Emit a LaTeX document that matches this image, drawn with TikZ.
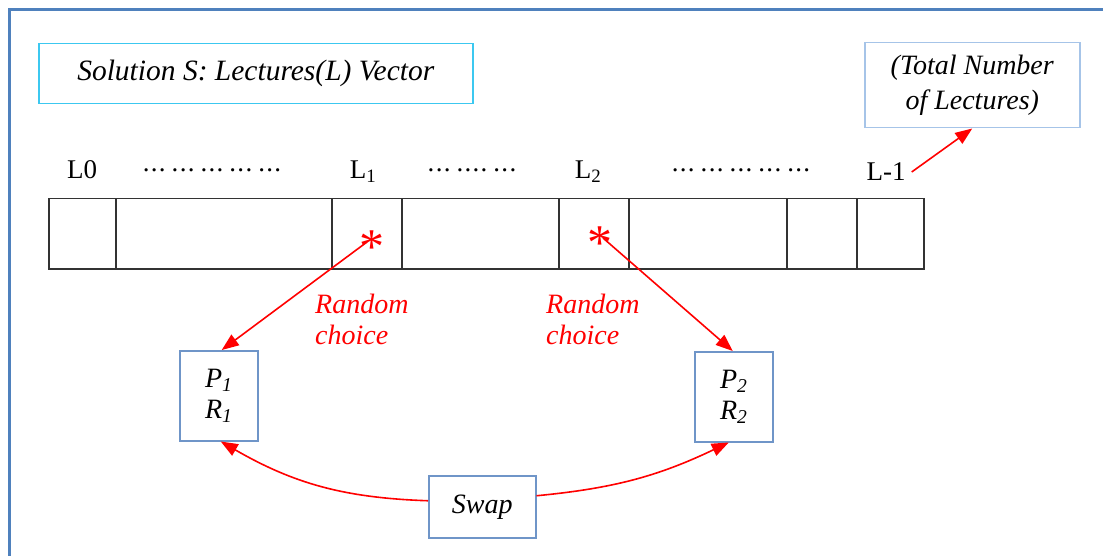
\documentclass[tikz,border=0pt]{standalone}
\usepackage{fontspec}
\setmainfont{Liberation Serif}
\usetikzlibrary{arrows.meta}
\definecolor{framecol}{HTML}{4F81BD}
\definecolor{titlecol}{HTML}{3CC8F0}
\definecolor{notecol}{HTML}{A6C4E8}
\definecolor{boxcol}{HTML}{6F95C8}
\definecolor{cellcol}{HTML}{333333}
\tikzset{
  x=1pt, y=-1pt,
  cell/.style={draw=cellcol, line width=1.5pt, inner sep=0pt, minimum height=70pt, anchor=north west},
  infobox/.style={draw=#1, line width=1.5pt, inner sep=0pt, anchor=north west, font=\fontsize{28}{34}\selectfont\itshape, align=center},
  lbl/.style={font=\fontsize{27}{32}\selectfont, inner sep=0pt},
  dotrow/.style={font=\fontsize{27}{32}\selectfont, inner sep=0pt},
  starmark/.style={text=red, font=\fontsize{50}{50}\selectfont, inner sep=0pt},
  redtxt/.style={text=red, font=\fontsize{28}{31}\selectfont\itshape, inner sep=0pt, align=left},
  redarrow/.style={draw=red, line width=1.6pt, -{Triangle[length=17pt,width=13pt]}},
}
% a group of three (or four) closely spaced dots
\newcommand{\dotsiii}{.\kern1.3pt.\kern1.3pt.}
\newcommand{\dotsiv}{.\kern1.3pt.\kern1.3pt.\kern1.3pt.}
\newcommand{\dgap}{\hspace{6pt}}
\begin{document}
\begin{tikzpicture}
\useasboundingbox (0,0) rectangle (1103,556);
% outer frame
\draw[framecol, line width=3pt] (9,556) -- (9,10) -- (1103,10);

% heading boxes
\node[infobox=titlecol, minimum width=434pt, minimum height=60pt,
      font=\fontsize{29.5}{34}\selectfont\itshape] (title) at (38,43) {Solution S: Lectures(L) Vector};
\node[infobox=notecol, minimum width=215pt, minimum height=85pt,
      font=\fontsize{28}{35}\selectfont\itshape] (total) at (864,42) {(Total Number\\of Lectures)};

% lecture vector cells
\node[cell, minimum width=67pt]  (c0) at (48,198) {};
\node[cell, minimum width=216pt] (c1) at (115,198) {};
\node[cell, minimum width=70pt]  (c2) at (331,198) {};
\node[cell, minimum width=157pt] (c3) at (401,198) {};
\node[cell, minimum width=70pt]  (c4) at (558,198) {};
\node[cell, minimum width=158pt] (c5) at (628,198) {};
\node[cell, minimum width=70pt]  (c6) at (786,198) {};
\node[cell, minimum width=67pt]  (c7) at (856,198) {};

% index labels
\node[lbl] (l0) at (82,170) {L0};
\node[dotrow] (d1) at (212,170) {\dotsiii\dgap\dotsiii\dgap\dotsiii\dgap\dotsiii\dgap\dotsiii};
\node[lbl] (l1) at (363,172) {L\textsubscript{1}};
\node[dotrow] (d2) at (472,170) {\dotsiii\dgap\dotsiv\dgap\dotsiii};
\node[lbl] (l2) at (588,172) {L\textsubscript{2}};
\node[dotrow] (d3) at (741,170) {\dotsiii\dgap\dotsiii\dgap\dotsiii\dgap\dotsiii\dgap\dotsiii};
\node[lbl] (ln) at (886,172) {L-1};

% chosen positions
\node[starmark] (s1) at (372,247) {*};
\node[starmark] (s2) at (600,243) {*};
\coordinate (s1a) at (367,242);
\coordinate (s2a) at (603,238);

\node[redtxt, anchor=north west] (rc1) at (315,294) {Random\\choice};
\node[redtxt, anchor=north west] (rc2) at (546,294) {Random\\choice};

% selected lectures
\node[infobox=boxcol, minimum width=78pt, minimum height=90pt] (p1) at (179,350) {P\textsubscript{1}\\[-3pt]R\textsubscript{1}};
\node[infobox=boxcol, minimum width=78pt, minimum height=90pt] (p2) at (694,351) {P\textsubscript{2}\\[-3pt]R\textsubscript{2}};
\node[infobox=boxcol, minimum width=107pt, minimum height=62pt] (swap) at (428,475) {Swap};

% connectors
\draw[redarrow] (ln.east) ++(6,0) -- (total.south);
\draw[redarrow] (s1a) -- ([xshift=3pt]p1.north);
\draw[redarrow] (s2a) -- ([xshift=-1pt]p2.north);
\draw[redarrow] ([yshift=6pt]swap.west) to[bend left=14] ([xshift=2pt]p1.south);
\draw[redarrow] ([yshift=11pt]swap.east) to[bend right=10] ([xshift=-5pt]p2.south);
\end{tikzpicture}
\end{document}
